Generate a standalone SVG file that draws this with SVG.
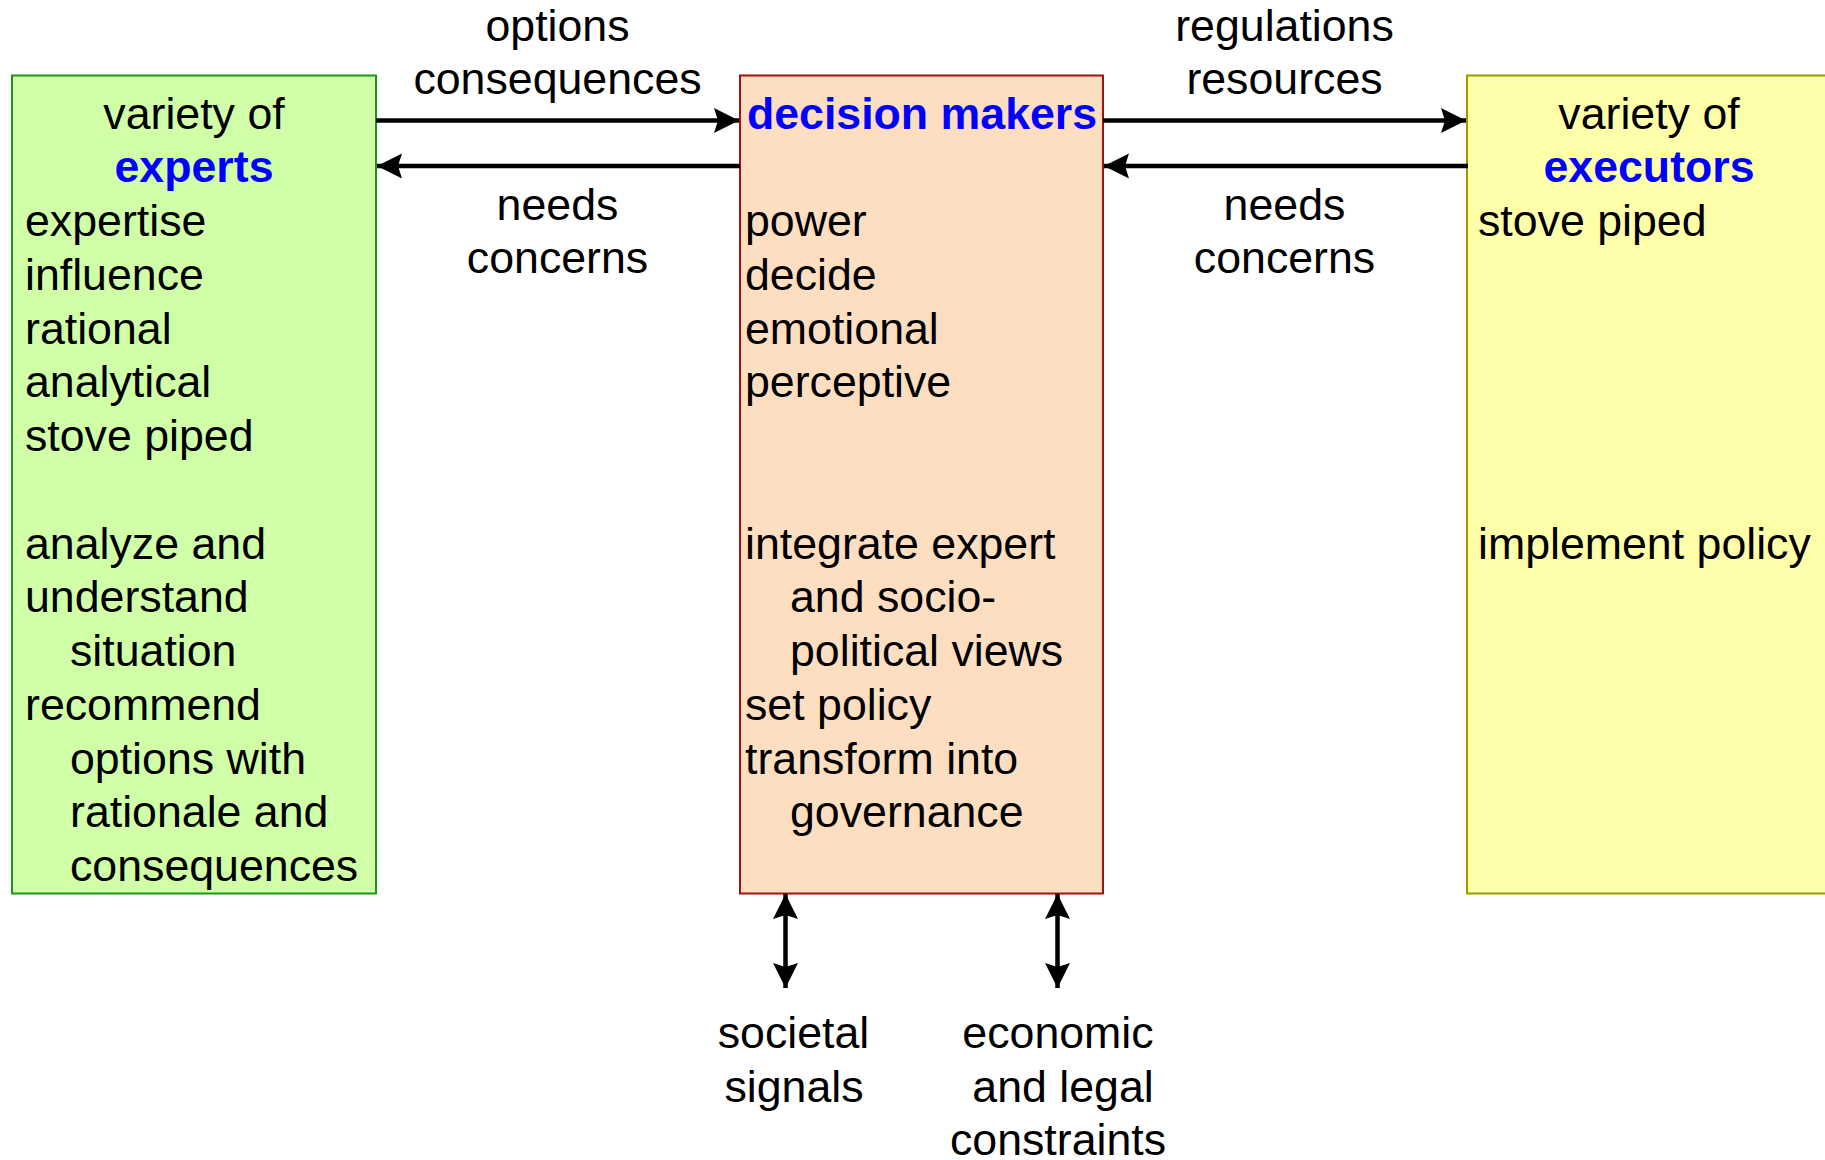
<svg xmlns="http://www.w3.org/2000/svg" width="1825" height="1160" viewBox="0 0 1825 1160">
<defs>
<style>
text{font-family:"Liberation Sans",Arial,sans-serif;font-size:44.7px;fill:#000}
.c{text-anchor:middle}
.b{font-weight:bold;fill:#0000FF}
.ln{stroke:#000;stroke-width:4.5;fill:none}
</style>
<marker id="ah" viewBox="0 0 26 26" refX="25" refY="13" markerWidth="26" markerHeight="26" markerUnits="userSpaceOnUse" orient="auto-start-reverse">
<path d="M0,0.5 L25,13 L0,25.5 L4,13 Z" fill="#000"/>
</marker>
</defs>
<rect width="1825" height="1160" fill="#fff"/>
<g id="experts">
<rect x="12" y="75.5" width="364" height="818" fill="#D0FFA8" stroke="#1A961A" stroke-width="2"/>
<text class="c" x="194" y="128.5">variety of</text>
<text class="c b" x="194" y="182.3">experts</text>
<text x="25" y="236">expertise</text>
<text x="25" y="289.8">influence</text>
<text x="25" y="343.5">rational</text>
<text x="25" y="397.3">analytical</text>
<text x="25" y="451">stove piped</text>
<text x="25" y="558.5">analyze and</text>
<text x="25" y="612.3">understand</text>
<text x="70" y="666">situation</text>
<text x="25" y="719.8">recommend</text>
<text x="70" y="773.5">options with</text>
<text x="70" y="827.3">rationale and</text>
<text x="70" y="881">consequences</text>
</g>
<g id="decision-makers">
<rect x="740" y="75.5" width="363" height="818" fill="#FDDEC0" stroke="#9B1515" stroke-width="2"/>
<text class="c b" x="922" y="128.5">decision makers</text>
<text x="745" y="236">power</text>
<text x="745" y="289.8">decide</text>
<text x="745" y="343.5">emotional</text>
<text x="745" y="397.3">perceptive</text>
<text x="745" y="558.5">integrate expert</text>
<text x="790" y="612.3">and socio-</text>
<text x="790" y="666">political views</text>
<text x="745" y="719.8">set policy</text>
<text x="745" y="773.5">transform into</text>
<text x="790" y="827.3">governance</text>
</g>
<g id="executors">
<rect x="1467" y="75.5" width="364" height="818" fill="#FFFFAA" stroke="#999900" stroke-width="2"/>
<text class="c" x="1649" y="128.5">variety of</text>
<text class="c b" x="1649" y="182.3">executors</text>
<text x="1478" y="236">stove piped</text>
<text x="1478" y="558.5">implement policy</text>
</g>
<g id="connectors">
<line class="ln" x1="376" y1="120.5" x2="739" y2="120.5" marker-end="url(#ah)"/>
<line class="ln" x1="740" y1="166" x2="377" y2="166" marker-end="url(#ah)"/>
<line class="ln" x1="1103" y1="120.5" x2="1466" y2="120.5" marker-end="url(#ah)"/>
<line class="ln" x1="1468" y1="166" x2="1104" y2="166" marker-end="url(#ah)"/>
<line class="ln" x1="785.5" y1="894" x2="785.5" y2="988" marker-start="url(#ah)" marker-end="url(#ah)"/>
<line class="ln" x1="1057.5" y1="894" x2="1057.5" y2="988" marker-start="url(#ah)" marker-end="url(#ah)"/>
</g>
<g id="labels">
<text class="c" x="557.5" y="40.5">options</text>
<text class="c" x="557.5" y="94.3">consequences</text>
<text class="c" x="557.5" y="219.5">needs</text>
<text class="c" x="557.5" y="273">concerns</text>
<text class="c" x="1284.5" y="40.5">regulations</text>
<text class="c" x="1284.5" y="94.3">resources</text>
<text class="c" x="1284.5" y="219.5">needs</text>
<text class="c" x="1284.5" y="273">concerns</text>
<text class="c" x="793.5" y="1048">societal</text>
<text class="c" x="794" y="1101.7">signals</text>
<text class="c" x="1058" y="1048">economic</text>
<text class="c" x="1063" y="1101.7">and legal</text>
<text class="c" x="1058" y="1155.4">constraints</text>
</g>
</svg>
